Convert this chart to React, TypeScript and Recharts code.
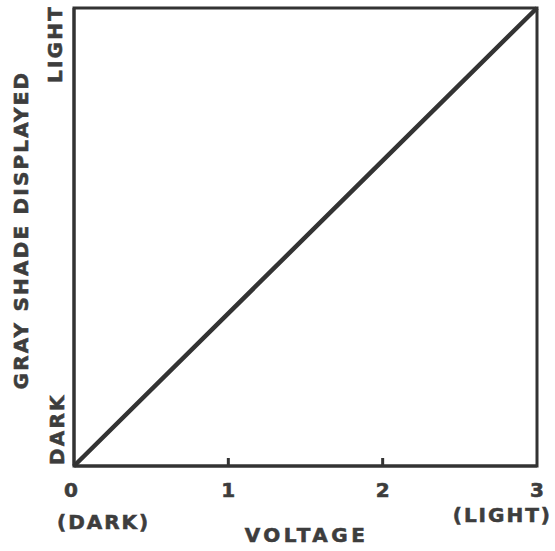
import { LineChart, Line, XAxis, YAxis, ReferenceArea } from "recharts";

const voltage = [0, 1, 2, 3];
const grayShade = [0, 1, 2, 3];
const voltageTicks = [0, 1, 2, 3];
const tickNotes: Record<number, string> = { 0: "(DARK)", 3: "(LIGHT)" };
const xTitle = "VOLTAGE";
const yTitle = "GRAY SHADE DISPLAYED";
const yLowLabel = "DARK";
const yHighLabel = "LIGHT";

const data = voltage.map((v, i) => ({ voltage: v, shade: grayShade[i] }));

const INK = "#333333";
const TEXT = "#3d3d3d";
const FONT = "'DejaVu Sans', sans-serif";

// heavier lettering, closer to the printed look
const bold = {
  fill: TEXT,
  stroke: TEXT,
  strokeWidth: 0.6,
  fontFamily: FONT,
  fontWeight: "bold",
  dominantBaseline: "central" as const,
};

function VoltageTick(props: any) {
  const { x, y, payload, index } = props;
  const v = payload.value;
  const last = index === voltageTicks.length - 1;
  const dx = index === 0 ? -3 : 0;
  return (
    <g>
      {index > 0 && !last && (
        <line x1={x} x2={x} y1={y} y2={y - 8} stroke={INK} strokeWidth={3} />
      )}
      <text {...bold} x={x + dx} y={y + 24} textAnchor="middle" fontSize={20}>
        {v}
      </text>
      {tickNotes[v] && (
        <text
          {...bold}
          x={index === 0 ? x - 17 : x + 15}
          y={index === 0 ? y + 56 : y + 49}
          textAnchor={index === 0 ? "start" : "end"}
          fontSize={20}
          letterSpacing={2}
        >
          {tickNotes[v]}
        </text>
      )}
    </g>
  );
}

function XTitle(props: any) {
  const { viewBox } = props;
  const { x, y, width } = viewBox;
  return (
    <text {...bold} x={x + width / 2 + 1} y={y + 69} textAnchor="middle" fontSize={20} letterSpacing={3.5}>
      {xTitle}
    </text>
  );
}

function YTitles(props: any) {
  const { viewBox } = props;
  const { x, y, width, height } = viewBox;
  const left = x + width;
  const bottom = y + height;
  const common = { ...bold, fontSize: 20, letterSpacing: 2.2 };
  const tx = left - 53;
  const ty = y + height / 2 - 7;
  const lx = left - 19;
  const ly = y - 3;
  const dx = left - 17;
  const dy = bottom - 1;
  return (
    <g>
      <text {...common} x={tx} y={ty} textAnchor="middle" transform={`rotate(-90, ${tx}, ${ty})`}>
        {yTitle}
      </text>
      <text {...common} x={lx} y={ly} textAnchor="end" transform={`rotate(-90, ${lx}, ${ly})`}>
        {yHighLabel}
      </text>
      <text {...common} x={dx} y={dy} textAnchor="start" transform={`rotate(-90, ${dx}, ${dy})`}>
        {yLowLabel}
      </text>
    </g>
  );
}

export default function App() {
  return (
    <div style={{ position: "absolute", left: 0, top: 0, width: 555, height: 551, background: "#fff" }}>
      <LineChart width={555} height={551} data={data} margin={{ top: 8, right: 18, bottom: 0, left: 0 }}>
        <XAxis
          dataKey="voltage"
          type="number"
          domain={[0, 3]}
          ticks={voltageTicks}
          height={85}
          axisLine={{ stroke: INK, strokeWidth: 3 }}
          tickLine={false}
          tickSize={0}
          tickMargin={0}
          tick={<VoltageTick />}
          interval={0}
          label={{ content: <XTitle /> }}
        />
        <YAxis
          type="number"
          domain={[0, 3]}
          width={74}
          axisLine={{ stroke: INK, strokeWidth: 3 }}
          tick={false}
          tickLine={false}
          label={{ content: <YTitles /> }}
        />
        <ReferenceArea x1={0} x2={3} y1={0} y2={3} fill="none" stroke={INK} strokeWidth={3} />
        <Line
          type="linear"
          dataKey="shade"
          stroke={INK}
          strokeWidth={4.5}
          dot={false}
          isAnimationActive={false}
        />
      </LineChart>
    </div>
  );
}
